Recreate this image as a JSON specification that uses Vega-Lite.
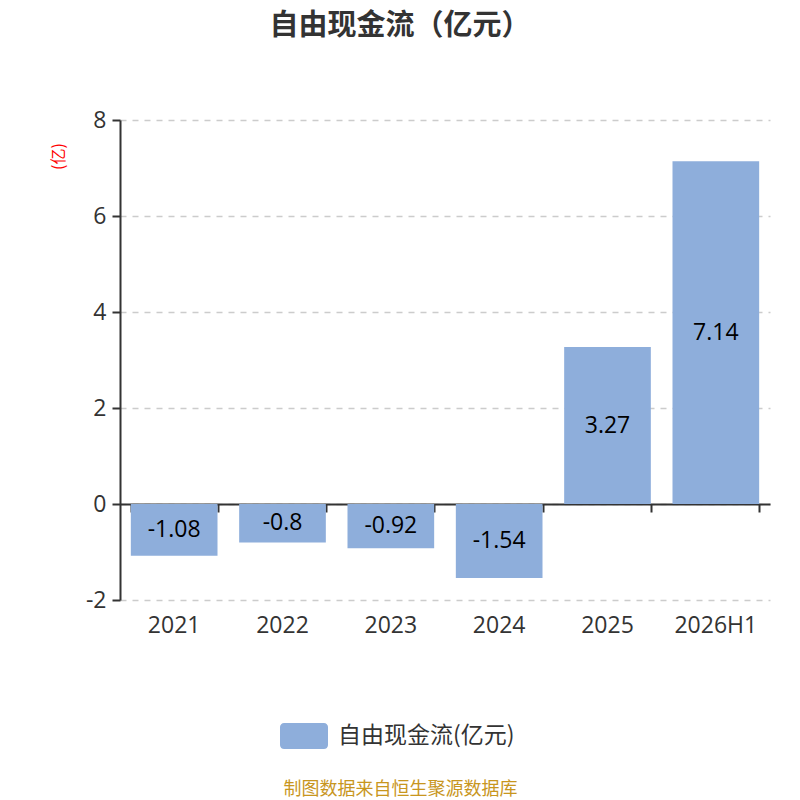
{
  "$schema": "https://vega.github.io/schema/vega-lite/v6.json",
  "width": 650,
  "height": 480,
  "autosize": {"type": "none"},
  "padding": {"left": 120, "top": 120, "right": 30, "bottom": 200},
  "background": "white",
  "title": {
    "text": "自由现金流（亿元）",
    "font": "Noto Sans CJK SC",
    "fontSize": 29,
    "fontWeight": "bold",
    "color": "#333333",
    "anchor": "middle",
    "dx": -45,
    "offset": 68
  },
  "config": {
    "view": {"stroke": null},
    "font": "Noto Sans CJK SC"
  },
  "data": {
    "values": [
      {"period": "2021", "value": -1.08},
      {"period": "2022", "value": -0.8},
      {"period": "2023", "value": -0.92},
      {"period": "2024", "value": -1.54},
      {"period": "2025", "value": 3.27},
      {"period": "2026H1", "value": 7.14}
    ]
  },
  "encoding": {
    "x": {
      "field": "period",
      "type": "nominal",
      "sort": null,
      "scale": {"paddingInner": 0.2, "paddingOuter": 0.1}
    }
  },
  "layer": [
    {
      "mark": {"type": "bar", "color": "#8eaedb"},
      "encoding": {
        "x": {
          "field": "period",
          "type": "nominal",
          "sort": null,
          "axis": {
            "orient": "bottom",
            "title": "制图数据来自恒生聚源数据库",
            "titleFont": "Noto Sans CJK SC",
            "titleFontSize": 18,
            "titleFontWeight": "normal",
            "titleColor": "#c8961e",
            "titleBaseline": "middle",
            "titleY": 189,
            "titleX": 280,
            "labelAngle": 0,
            "labelFont": "Open Sans",
            "labelFontSize": 23,
            "labelColor": "#333333",
            "labelPadding": 14,
            "ticks": false,
            "domain": false,
            "grid": false
          }
        },
        "y": {
          "field": "value",
          "type": "quantitative",
          "scale": {"domain": [-2, 8]},
          "axis": {
            "values": [-2, 0, 2, 4, 6, 8],
            "labelExpr": "'' + datum.value",
            "title": "(亿)",
            "titleColor": "#ff0000",
            "titleFontSize": 16,
            "titleFontWeight": "normal",
            "titleAngle": -90,
            "titleAlign": "center",
            "titleBaseline": "middle",
            "titleX": -62,
            "titleY": 36,
            "labelFont": "Open Sans",
            "labelFontSize": 23,
            "labelColor": "#333333",
            "labelPadding": 6,
            "tickSize": 8,
            "tickColor": "#333333",
            "tickWidth": 2,
            "domainColor": "#333333",
            "domainWidth": 2,
            "gridColor": "#cccccc",
            "gridDash": [6, 6],
            "gridWidth": 1.5
          }
        },
        "color": {
          "datum": "自由现金流(亿元)",
          "scale": {"range": ["#8eaedb"]},
          "legend": {
            "title": null,
            "orient": "none",
            "legendX": 160,
            "legendY": 592,
            "symbolType": "M-0.83,-0.54 H0.83 A0.17,0.17 0 0 1 1,-0.37 V0.37 A0.17,0.17 0 0 1 0.83,0.54 H-0.83 A0.17,0.17 0 0 1 -1,0.37 V-0.37 A0.17,0.17 0 0 1 -0.83,-0.54 Z",
            "symbolSize": 2304,
            "symbolStrokeWidth": 0,
            "symbolOpacity": 1,
            "labelFontSize": 23,
            "labelLimit": 400,
            "labelColor": "#333333",
            "labelOffset": 10,
            "labelFont": "Noto Sans CJK SC"
          }
        }
      }
    },
    {
      "transform": [{"calculate": "datum.value / 2", "as": "mid"}],
      "mark": {"type": "text", "font": "Open Sans", "fontSize": 23, "color": "#000000", "baseline": "middle"},
      "encoding": {
        "x": {
          "field": "period",
          "type": "nominal",
          "sort": null,
          "axis": {
            "orient": "bottom",
            "offset": -96,
            "title": null,
            "labels": false,
            "ticks": true,
            "tickBand": "extent",
            "tickSize": 8,
            "tickWidth": 2,
            "tickColor": "#333333",
            "domain": true,
            "domainColor": "#333333",
            "domainWidth": 2,
            "grid": false
          }
        },
        "y": {"field": "mid", "type": "quantitative"},
        "text": {"field": "value", "type": "nominal"}
      }
    }
  ],
  "resolve": {"axis": {"x": "independent"}}
}
